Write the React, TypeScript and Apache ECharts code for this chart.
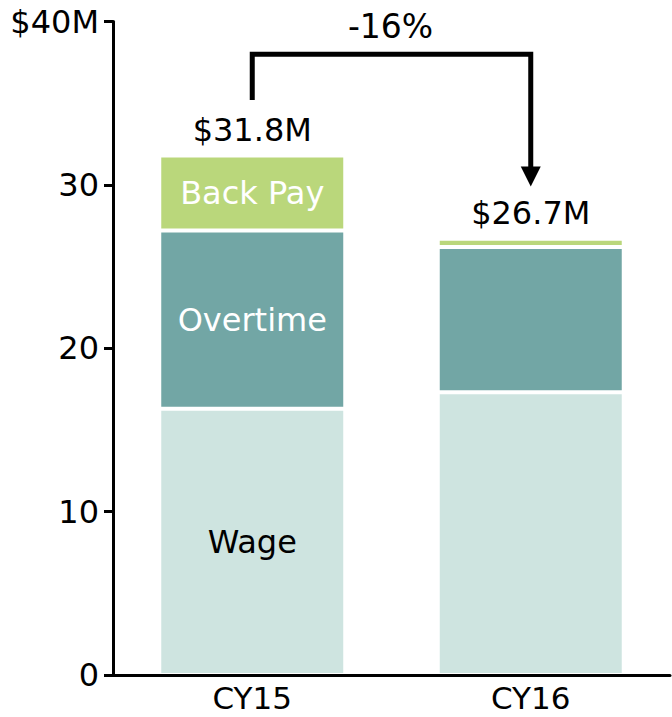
import React, { useEffect, useRef } from "react";
import * as echarts from "echarts";

const categories = ["CY15", "CY16"];
const wage = [16.3, 17.3];
const overtime = [10.9, 8.9];
const backPay = [4.6, 0.5];
const totals = [31.8, 26.7];
const totalLabels = ["$31.8M", "$26.7M"];
const segmentNames = ["Wage", "Overtime", "Back Pay"];
const yMax = 40;
const yInterval = 10;
const changeLabel = "-16%";
// annotation levels (in axis units)
const arrowStartLevel = 35.2;
const arrowTopLevel = 38.0;
const arrowTipLevel = 29.9;
const changeLabelLevel = 39.7;

const FONT = "DejaVu Sans";
const FS = 32;

export default function App() {
  const ref = useRef<HTMLDivElement>(null);

  useEffect(() => {
    const chart = echarts.init(ref.current!, null, { renderer: "svg" });

    const mk = (vals: number[], color: string, name: string, labelColor: string) => ({
      name,
      type: "bar",
      stack: "total",
      barWidth: 186,
      itemStyle: { color, borderColor: "#ffffff", borderWidth: 2 },
      label: {
        show: false,
        position: "inside",
        formatter: name,
        color: labelColor,
        fontSize: FS,
        fontFamily: FONT,
      },
      data: vals.map((v, i) => ({ value: v, label: { show: i === 0 } })),
    });

    chart.setOption({
      animation: false,
      grid: { left: 113, right: 2, top: 21.5, bottom: 42, containLabel: false },
      xAxis: {
        type: "category",
        data: categories,
        z: 5,
        axisLine: { show: true, lineStyle: { color: "#000", width: 3 } },
        axisTick: { show: false },
        axisLabel: {
          color: "#000",
          fontSize: 31,
          lineHeight: 30,
          fontFamily: FONT,
          margin: 8,
        },
      },
      yAxis: {
        type: "value",
        min: 0,
        max: yMax,
        interval: yInterval,
        z: 5,
        splitLine: { show: false },
        axisLine: { show: true, lineStyle: { color: "#000", width: 3 } },
        axisTick: { show: true, length: 9, lineStyle: { color: "#000", width: 3 } },
        axisLabel: {
          color: "#000",
          fontSize: FS,
          fontFamily: FONT,
          margin: 14,
          formatter: (v: number) => (v === yMax ? "$40M" : String(v)),
        },
      },
      series: [
        mk(wage, "#cee4e0", segmentNames[0], "#000000"),
        mk(overtime, "#72a6a5", segmentNames[1], "#ffffff"),
        mk(backPay, "#bad77b", segmentNames[2], "#ffffff"),
        {
          type: "scatter",
          symbolSize: 1,
          itemStyle: { color: "rgba(0,0,0,0)", opacity: 1 },
          label: {
            show: true,
            position: "top",
            distance: 9,
            color: "#000",
            opacity: 1,
            fontSize: FS,
            fontFamily: FONT,
            formatter: (p: any) => totalLabels[p.dataIndex],
          },
          data: totals.map((t, i) => [i, t]),
          z: 6,
        },
      ],
    });

    const px = (i: number, v: number) =>
      chart.convertToPixel({ xAxisIndex: 0, yAxisIndex: 0 }, [i, v]) as number[];
    const [x1, yStart] = px(0, arrowStartLevel);
    const [, yTop] = px(0, arrowTopLevel);
    const [x2, yTip] = px(1, arrowTipLevel);
    const [, yLabel] = px(0, changeLabelLevel);
    const headH = 20;
    const headW = 20;

    chart.setOption({
      graphic: [
        {
          type: "polyline",
          shape: {
            points: [
              [x1, yStart],
              [x1, yTop],
              [x2, yTop],
              [x2, yTip - headH + 2],
            ],
          },
          style: { stroke: "#000", lineWidth: 5, fill: null, lineJoin: "miter", lineCap: "butt" },
        },
        {
          type: "polygon",
          shape: {
            points: [
              [x2 - headW / 2, yTip - headH],
              [x2 + headW / 2, yTip - headH],
              [x2, yTip],
            ],
          },
          style: { fill: "#000" },
        },
        {
          type: "text",
          x: (x1 + x2) / 2 - 1,
          y: yLabel,
          style: {
            text: changeLabel,
            fontSize: 33,
            fontFamily: FONT,
            fill: "#000",
            align: "center",
            verticalAlign: "middle",
          },
        },
      ],
    });

    return () => chart.dispose();
  }, []);

  return (
    <div
      ref={ref}
      style={{ position: "absolute", left: 0, top: 0, width: 672, height: 717 }}
    />
  );
}
